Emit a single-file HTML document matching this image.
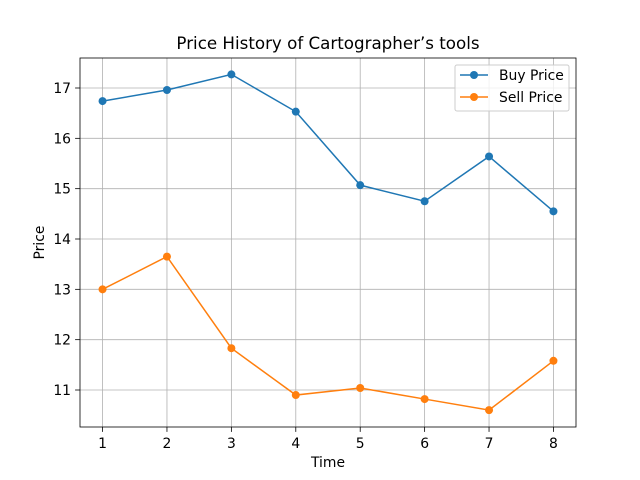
<!DOCTYPE html>
<html><head><meta charset="utf-8"><style>body{margin:0;background:#fff}svg{display:block;font-family:"DejaVu Sans","Liberation Sans",sans-serif}</style></head>
<body>
<svg id="chart" width="640" height="480" viewBox="0 0 640 480"></svg>
<script>
const times = [1,2,3,4,5,6,7,8];
const buyPrice = [16.74,16.96,17.27,16.53,15.07,14.75,15.64,14.55];
const sellPrice = [13.0,13.65,11.83,10.9,11.04,10.82,10.6,11.58];
const xTicks = [1,2,3,4,5,6,7,8];
const yTicks = [11,12,13,14,15,16,17];

const L=80,R=576,T=58,B=427;
const xMin=0.65,xMax=8.35,yMin=10.265,yMax=17.596;
const sx=v=>L+(v-xMin)/(xMax-xMin)*(R-L);
const sy=v=>B-(v-yMin)/(yMax-yMin)*(B-T);
const svg=document.getElementById('chart');
const NS='http://www.w3.org/2000/svg';
function mk(tag,attrs,parent){const e=document.createElementNS(NS,tag);for(const k in attrs)e.setAttribute(k,attrs[k]);(parent||svg).appendChild(e);return e;}

const grid=mk('g',{});


xTicks.forEach(t=>{mk('line',{x1:sx(t),x2:sx(t),y1:T,y2:B,stroke:'#b0b0b0','stroke-width':0.8},grid);});
yTicks.forEach(t=>{mk('line',{x1:L,x2:R,y1:sy(t),y2:sy(t),stroke:'#b0b0b0','stroke-width':0.8},grid);});

const xa=mk('g',{});


xTicks.forEach(t=>{mk('line',{x1:sx(t),x2:sx(t),y1:B,y2:B+4.9,stroke:'#000','stroke-width':0.8},xa);
const tx=mk('text',{x:sx(t),y:B+21,'font-size':13.9,'text-anchor':'middle'},xa);tx.textContent=t;});
const ya=mk('g',{});


yTicks.forEach(t=>{mk('line',{x1:L-4.9,x2:L,y1:sy(t),y2:sy(t),stroke:'#000','stroke-width':0.8},ya);
const tx=mk('text',{x:L-9,y:sy(t)+5,'font-size':13.9,'text-anchor':'end'},ya);tx.textContent=t;});

function series(vals,color,name){
  const g=mk('g',{});
  
  
  mk('polyline',{points:vals.map((v,i)=>sx(times[i])+','+sy(v)).join(' '),fill:'none',stroke:color,'stroke-width':1.5},g);
  vals.forEach((v,i)=>{const c=mk('circle',{cx:sx(times[i]),cy:sy(v),r:4,fill:color},g);
  
  });
}
series(buyPrice,'#1f77b4','buy-price-series');
series(sellPrice,'#ff7f0e','sell-price-series');

mk('rect',{x:L,y:T,width:R-L,height:B-T,fill:'none',stroke:'#000','stroke-width':0.8});

const title=mk('text',{x:(L+R)/2,y:49,'font-size':16.7,'text-anchor':'middle'});


title.textContent='Price History of Cartographer’s tools';
const xl=mk('text',{x:(L+R)/2,y:467,'font-size':13.9,'text-anchor':'middle'});


xl.textContent='Time';
const yl=mk('text',{x:44,y:(T+B)/2,'font-size':13.9,'text-anchor':'middle',transform:'rotate(-90 44 '+((T+B)/2)+')'});


yl.textContent='Price';

const lg=mk('g',{});


mk('rect',{x:455,y:65,width:114,height:46,rx:2,fill:'#fff','fill-opacity':0.8,stroke:'#ccc'},lg);
[['Buy Price','#1f77b4',75],['Sell Price','#ff7f0e',97]].forEach(([n,c,y])=>{
  const e=mk('g',{},lg);
  
  
  mk('line',{x1:460,x2:488,y1:y,y2:y,stroke:c,'stroke-width':1.5},e);
  mk('circle',{cx:474,cy:y,r:4,fill:c},e);
  const t=mk('text',{x:499,y:y+5,'font-size':13.9},e);t.textContent=n;
});
</script>
</body></html>
